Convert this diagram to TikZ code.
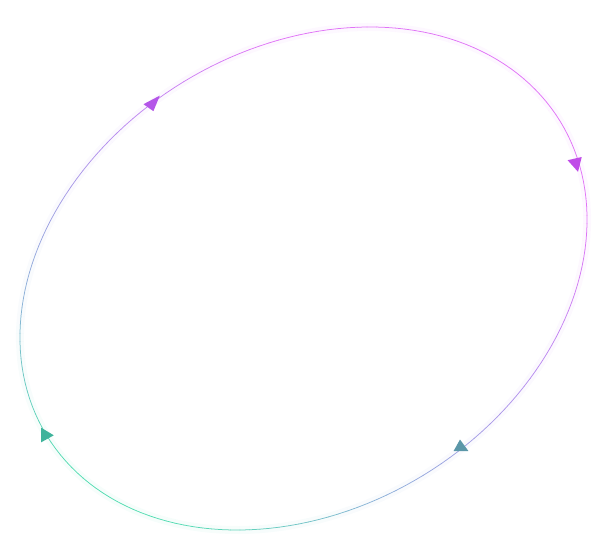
\documentclass[tikz,border=0pt]{standalone}
\usepackage{tikz}

\definecolor{tipone}{RGB}{180,86,232}
\definecolor{tiptwo}{RGB}{192,76,232}
\definecolor{tipthree}{RGB}{91,151,168}
\definecolor{tipfour}{RGB}{63,179,155}

\begin{document}
\begin{tikzpicture}[x=1pt, y=-1pt,
    ring/.style={line width=0.75pt, line cap=round},
    glow/.style={line width=8pt, opacity=0.05},
    declare function={
      ex(\a)=303.5+301*cos(\a)*0.8535+230.4*sin(\a)*0.5210;
      ey(\a)=278.5-301*cos(\a)*0.5210+230.4*sin(\a)*0.8535;
      cl(\x)=min(max(\x,0),1);
      ch(\s,\p,\q,\r,\w)=\p+(\q-\p)*cl((\s+100)/150)+(\r-\q)*cl((\s-50)/200)+(\w-\r)*cl((\s-250)/120);
    }]
    \useasboundingbox (0,0) rectangle (610,559);

    % the ring, coloured from top right to bottom left
    \foreach \ang in {0,2,...,358} {
      \pgfmathsetmacro{\s}{0.87*ey(\ang+1)-0.5*ex(\ang+1)}
      \pgfmathtruncatemacro{\cr}{ch(\s,224,186,140,84)}
      \pgfmathtruncatemacro{\cg}{ch(\s,116,140,178,220)}
      \pgfmathtruncatemacro{\cb}{ch(\s,246,240,216,178)}
      \definecolor{segc}{RGB}{\cr,\cg,\cb}
      \draw[glow, segc] ({ex(\ang)},{ey(\ang)}) -- ({ex(\ang+2)},{ey(\ang+2)});
      \draw[ring, segc] ({ex(\ang)},{ey(\ang)}) -- ({ex(\ang+2)},{ey(\ang+2)});
    }

    % arrow heads
    \begin{scope}[line join=round]
      \fill[tipone] (143.5,104.2) -- (159.8,95.6) -- (153.4,111.2) -- cycle;
      \fill[tiptwo] (567.6,160.2) -- (581.7,157.0) -- (578.0,171.8) -- cycle;
      \fill[tipthree] (460.0,439.5) -- (453.6,451.0) -- (468.4,451.0) -- cycle;
      \fill[tipfour] (41.0,427.6) -- (41.0,442.4) -- (53.8,435.3) -- cycle;
    \end{scope}
\end{tikzpicture}
\end{document}
